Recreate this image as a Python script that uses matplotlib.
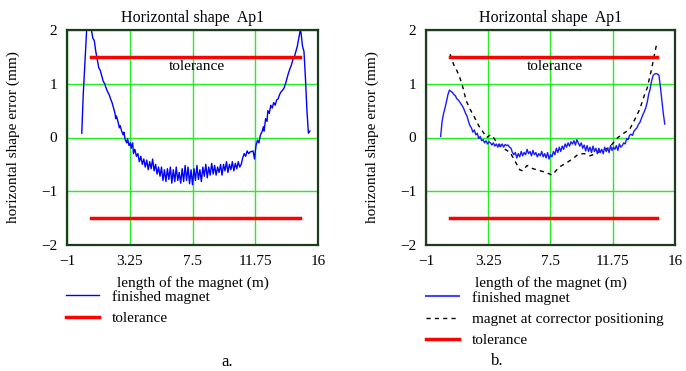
import numpy as np
import matplotlib
matplotlib.use('Agg')
import matplotlib.pyplot as plt
from matplotlib.lines import Line2D

plt.rcParams['font.family'] = ['Liberation Serif', 'DejaVu Serif']
plt.rcParams['font.size'] = 11

# panel a: finished magnet
xa = [0.0, 0.1, 0.25, 0.35, 0.45, 0.55, 0.65, 0.75, 0.85, 0.95, 1.05, 1.15, 1.25, 1.35, 1.45,
      1.55, 1.65, 1.75, 1.85, 1.95, 2.05, 2.15, 2.25, 2.3, 2.35, 2.45, 2.55, 2.6, 2.7, 2.8,
      2.85, 2.95, 3.05, 3.1, 3.2, 3.3, 3.35, 3.45, 3.5, 3.6, 3.7, 3.8, 3.9, 4.0, 4.1,
      4.2, 4.3, 4.4, 4.5, 4.6, 4.7, 4.8, 4.9, 5.0, 5.1, 5.2, 5.3, 5.4, 5.5, 5.6,
      5.7, 5.8, 5.9, 6.0, 6.1, 6.2, 6.3, 6.4, 6.5, 6.6, 6.7, 6.8, 6.9, 7.0, 7.1,
      7.2, 7.3, 7.4, 7.5, 7.6, 7.7, 7.8, 7.9, 8.0, 8.1, 8.2, 8.3, 8.4, 8.5, 8.6,
      8.7, 8.8, 8.9, 9.0, 9.1, 9.2, 9.3, 9.4, 9.5, 9.6, 9.7, 9.8, 9.9, 10.0, 10.1,
      10.2, 10.3, 10.4, 10.5, 10.6, 10.7, 10.8, 10.9, 11.0, 11.1, 11.2, 11.3, 11.4, 11.6, 11.7,
      11.8, 11.9, 12.0, 12.1, 12.2, 12.3, 12.35, 12.45, 12.55, 12.6, 12.7, 12.8, 12.9, 13.0, 13.1,
      13.2, 13.3, 13.4, 13.5, 13.6, 13.7, 13.8, 13.9, 14.0, 14.1, 14.2, 14.3, 14.4, 14.5, 14.6,
      14.7, 14.8, 14.85, 14.95, 15.05, 15.15, 15.25, 15.35, 15.45]
ya = [0.08, 0.8, 1.6, 2.1, 2.12, 2.08, 2.0, 1.85, 1.8, 1.6, 1.45, 1.3, 1.25, 1.15, 1.05,
      1.0, 0.92, 0.85, 0.8, 0.72, 0.65, 0.55, 0.45, 0.35, 0.4, 0.3, 0.18, 0.22, 0.12, 0.05,
      0.1, -0.05, -0.1, -0.02, -0.15, -0.1, -0.2, -0.1, -0.3, -0.22, -0.35, -0.3, -0.45, -0.35, -0.5,
      -0.4, -0.55, -0.42, -0.6, -0.45, -0.58, -0.4, -0.62, -0.5, -0.68, -0.55, -0.72, -0.55, -0.8, -0.6,
      -0.82, -0.58, -0.78, -0.55, -0.85, -0.6, -0.82, -0.55, -0.8, -0.65, -0.85, -0.58, -0.82, -0.52, -0.8,
      -0.55, -0.86, -0.6, -0.88, -0.58, -0.8, -0.52, -0.78, -0.6, -0.82, -0.55, -0.72, -0.5, -0.75, -0.55,
      -0.7, -0.48, -0.68, -0.52, -0.7, -0.55, -0.65, -0.5, -0.7, -0.5, -0.62, -0.45, -0.65, -0.5, -0.6,
      -0.45, -0.62, -0.48, -0.58, -0.45, -0.55, -0.5, -0.38, -0.3, -0.35, -0.25, -0.3, -0.27, -0.25, -0.4,
      -0.15, -0.05, -0.1, 0.05, 0.1, 0.2, 0.12, 0.35, 0.3, 0.5, 0.45, 0.6, 0.55, 0.65, 0.6,
      0.7, 0.72, 0.8, 0.85, 0.88, 0.92, 1.0, 1.1, 1.2, 1.28, 1.35, 1.45, 1.5, 1.6, 1.7,
      1.85, 2.0, 1.95, 1.7, 1.6, 1.1, 0.5, 0.08, 0.12]

# panel b: finished magnet
xb = [0.0, 0.1, 0.2, 0.3, 0.4, 0.5, 0.6, 0.7, 0.8, 0.9, 1.0, 1.1, 1.2, 1.3, 1.4,
      1.5, 1.6, 1.7, 1.8, 1.9, 2.0, 2.1, 2.2, 2.3, 2.4, 2.5, 2.6, 2.7, 2.8, 2.9,
      3.0, 3.1, 3.2, 3.3, 3.4, 3.5, 3.6, 3.7, 3.8, 3.9, 4.0, 4.1, 4.2, 4.3, 4.4,
      4.5, 4.6, 4.7, 4.8, 4.9, 5.0, 5.1, 5.2, 5.3, 5.4, 5.5, 5.6, 5.7, 5.8, 5.9,
      6.0, 6.1, 6.2, 6.3, 6.4, 6.5, 6.6, 6.7, 6.8, 6.9, 7.0, 7.1, 7.2, 7.3, 7.4,
      7.5, 7.6, 7.7, 7.8, 7.9, 8.0, 8.1, 8.2, 8.3, 8.4, 8.5, 8.6, 8.7, 8.8, 8.9,
      9.0, 9.1, 9.2, 9.3, 9.4, 9.5, 9.6, 9.7, 9.8, 9.9, 10.0, 10.1, 10.2, 10.3, 10.4,
      10.5, 10.6, 10.7, 10.8, 10.9, 11.0, 11.1, 11.2, 11.3, 11.4, 11.5, 11.6, 11.7, 11.8, 11.9,
      12.0, 12.1, 12.2, 12.3, 12.4, 12.5, 12.6, 12.7, 12.8, 12.9, 13.0, 13.1, 13.2, 13.3, 13.4,
      13.5, 13.6, 13.7, 13.8, 13.9, 14.0, 14.1, 14.2, 14.3, 14.4, 14.5, 14.6, 14.7, 14.8, 14.9,
      15.0, 15.1, 15.2, 15.3]
yb = [0.02, 0.3, 0.45, 0.55, 0.68, 0.8, 0.88, 0.86, 0.84, 0.8, 0.78, 0.72, 0.7, 0.66, 0.62,
      0.58, 0.52, 0.45, 0.4, 0.3, 0.22, 0.18, 0.1, 0.14, 0.05, 0.08, -0.02, 0.02, -0.06, -0.04,
      -0.1, -0.06, -0.12, -0.08, -0.1, -0.14, -0.1, -0.16, -0.12, -0.18, -0.12, -0.16, -0.12, -0.18, -0.13,
      -0.15, -0.14, -0.18, -0.2, -0.28, -0.32, -0.28, -0.38, -0.3, -0.36, -0.26, -0.34, -0.28, -0.32, -0.22,
      -0.3, -0.26, -0.34, -0.24, -0.32, -0.28, -0.36, -0.3, -0.34, -0.26, -0.36, -0.3, -0.38, -0.28, -0.4,
      -0.32, -0.36, -0.26, -0.32, -0.2, -0.28, -0.18, -0.26, -0.16, -0.22, -0.12, -0.18, -0.1, -0.16, -0.08,
      -0.12, -0.06, -0.14, -0.04, -0.1, -0.16, -0.1, -0.2, -0.14, -0.25, -0.15, -0.26, -0.18, -0.28, -0.16,
      -0.26, -0.2, -0.3, -0.2, -0.28, -0.22, -0.3, -0.18, -0.26, -0.2, -0.28, -0.15, -0.24, -0.18, -0.22,
      -0.15, -0.24, -0.12, -0.18, -0.15, -0.1, -0.12, -0.02, -0.04, 0.04, 0.06, 0.04, 0.12, 0.15, 0.18,
      0.24, 0.28, 0.35, 0.42, 0.48, 0.55, 0.65, 0.8, 0.9, 1.05, 1.15, 1.18, 1.19, 1.18, 1.16,
      0.95, 0.7, 0.45, 0.25]

# panel b: magnet at corrector positioning
xc = [0.65, 0.9, 1.1, 1.3, 1.5, 1.75, 2.0, 2.3, 2.6, 2.9, 3.15, 3.4, 3.6, 3.85, 4.05,
      4.4, 4.75, 5.1, 5.4, 5.6, 5.9, 6.3, 6.8, 7.2, 7.6, 8.1, 8.6, 9.0, 9.4, 9.8,
      10.2, 10.6, 11.0, 11.5, 12.1, 12.5, 12.9, 13.3, 13.6, 13.9, 14.1, 14.4, 14.6, 14.75]
yc = [1.55, 1.35, 1.25, 1.12, 0.95, 0.68, 0.53, 0.38, 0.22, 0.1, 0.0, 0.05, 0.0, -0.1, -0.16,
      -0.22, -0.28, -0.45, -0.6, -0.62, -0.52, -0.58, -0.62, -0.65, -0.7, -0.55, -0.47, -0.4, -0.31, -0.3,
      -0.34, -0.3, -0.24, -0.19, 0.0, 0.08, 0.15, 0.36, 0.53, 0.78, 0.92, 1.27, 1.55, 1.74]

# tolerance band
tol_a = [0.6, 14.8]
tol_b = [0.65, 14.75]
tol = 1.5

xticks = [-1, 3.25, 7.5, 11.75, 16]
xticklabels = ['\u22121', '3.25', '7.5', '11.75', '16']
yticks = [-2, -1, 0, 1, 2]
yticklabels = ['\u22122', '\u22121', '0', '1', '2']

fig = plt.figure(figsize=(6.86, 3.71), dpi=100)
W, H = 686, 371

def px_axes(l, t, r, b):
    return fig.add_axes([l / W, 1 - b / H, (r - l) / W, (b - t) / H])

frame_col = '#1e3a1e'
grid_col = '#22ee22'

def style(ax):
    ax.set_xlim(-1, 16)
    ax.set_ylim(-2, 2)
    ax.set_xticks(xticks)
    ax.set_xticklabels(xticklabels)
    ax.set_yticks(yticks)
    ax.set_yticklabels(yticklabels)
    ax.tick_params(length=0, labelsize=11, pad=7)
    for sp in ax.spines.values():
        sp.set_color(frame_col)
        sp.set_linewidth(1.6)
    ax.grid(True, color=grid_col, linewidth=1.0)
    ax.set_axisbelow(True)
    ax.set_title('Horizontal shape  Ap1', fontsize=11.5, pad=6)
    ax.set_xlabel('length of the magnet (m)', fontsize=11, labelpad=6)
    ax.set_ylabel('horizontal shape error (mm)', fontsize=11, labelpad=15)
    ax.text(7.8, 1.33, 'tolerance', ha='center', va='center', fontsize=11)

ax1 = px_axes(67, 30, 318, 245)
style(ax1)
ax1.plot(xa, ya, color='#0000ff', lw=1.0)
ax1.plot(tol_a, [tol, tol], color='#ff0000', lw=2.5)
ax1.plot(tol_a, [-tol, -tol], color='#ff0000', lw=2.5)

ax2 = px_axes(426, 30, 675, 245)
style(ax2)
ax2.plot(xc, yc, color='black', lw=1.0, linestyle=(0, (3, 3)))
ax2.plot(xb, yb, color='#1a1aff', lw=1.0)
ax2.plot(tol_b, [tol, tol], color='#ff0000', lw=2.5)
ax2.plot(tol_b, [-tol, -tol], color='#ff0000', lw=2.5)

h_fin = Line2D([], [], color='#0000ff', lw=1.0)
h_fin2 = Line2D([], [], color='#4444ff', lw=1.5)
h_cor = Line2D([], [], color='black', lw=1.0, linestyle=(0, (3, 3)))
h_tol = Line2D([], [], color='#ff0000', lw=2.5)

leg_kw = dict(frameon=False, loc='upper left', bbox_transform=fig.transFigure,
              handlelength=2.15, handletextpad=0.85, labelspacing=0.5,
              borderpad=0, borderaxespad=0, fontsize=11)
fig.legend([h_fin, h_tol], ['finished magnet', 'tolerance'],
           bbox_to_anchor=(66 / W, 1 - 290 / H), **leg_kw)
fig.legend([h_fin2, h_cor, h_tol], ['finished magnet', 'magnet at corrector positioning', 'tolerance'],
           bbox_to_anchor=(426 / W, 1 - 291 / H), **leg_kw)

fig.text(227 / W, 1 - 362 / H, 'a.', ha='center', va='center', fontsize=12)
fig.text(497 / W, 1 - 361 / H, 'b.', ha='center', va='center', fontsize=12)

fig.savefig('out.png', dpi=100)
